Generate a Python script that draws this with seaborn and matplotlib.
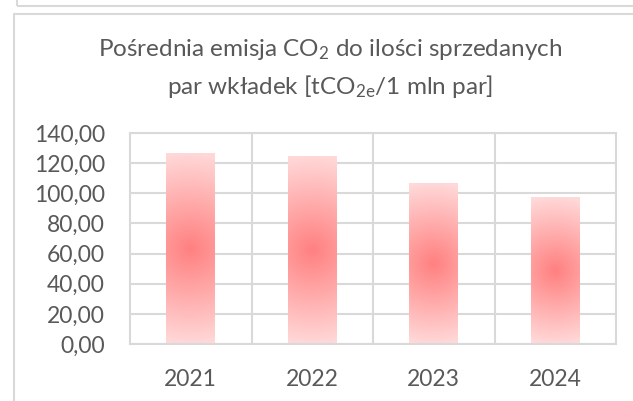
import numpy as np
import pandas as pd
import matplotlib.pyplot as plt
import seaborn as sns
from matplotlib.patches import Rectangle

# data
years = ["2021", "2022", "2023", "2024"]
emission = [126.7, 124.1, 106.2, 96.9]
y_ticks = [0, 20, 40, 60, 80, 100, 120, 140]

sns.set_style("white")
plt.rcParams["font.family"] = ["Lato", "DejaVu Sans"]
plt.rcParams["mathtext.default"] = "regular"

grid_col = "#d9d9d9"
text_col = "#595959"

fig = plt.figure(figsize=(6.33, 4.01), dpi=100)
ax = fig.add_axes([130/633, 57/401, 486/633, 211/401])

df = pd.DataFrame({"year": years, "value": emission})
sns.barplot(data=df, x="year", y="value", width=0.4, color="#ff8080", ax=ax, zorder=2)
ax.set_xlim(-0.5, 3.5)
ax.set_ylim(0, 140)
ax.set_yticks(y_ticks)
ax.set_yticklabels([f"{v:.2f}".replace(".", ",") for v in y_ticks])
ax.set_xticks([0.5, 1.5, 2.5], minor=True)
ax.set_xlabel("")
ax.set_ylabel("")
ax.set_axisbelow(True)
ax.grid(axis="y", color=grid_col, lw=1.5)
ax.grid(axis="x", which="minor", color=grid_col, lw=1.5)
ax.grid(axis="x", which="major", visible=False)
for s in ax.spines.values():
    s.set_color(grid_col)
    s.set_linewidth(1.5)
ax.tick_params(axis="both", which="both", length=0, labelsize=16.5, colors=text_col)
ax.tick_params(axis="y", pad=18)
ax.tick_params(axis="x", pad=18)

# radial gradient fill for each bar (center red, edges pale pink)
fig.canvas.draw()
c0 = np.array([255, 128, 128]) / 255
c1 = np.array([255, 216, 216]) / 255
for p in list(ax.patches):
    x0, y0 = p.get_x(), p.get_y()
    w, h = p.get_width(), p.get_height()
    (px0, py0), (px1, py1) = ax.transData.transform([(x0, y0), (x0 + w, y0 + h)])
    nw, nh = max(int(round(px1 - px0)), 2), max(int(round(py1 - py0)), 2)
    xx, yy = np.meshgrid(np.arange(nw) - nw / 2 + 0.5, np.arange(nh) - nh / 2 + 0.5)
    t = np.clip(np.hypot(xx, yy) / (nh / 2), 0, 1)
    img = c0 + (c1 - c0) * t[..., None]
    ax.imshow(img, extent=(x0, x0 + w, y0, y0 + h), aspect="auto",
              zorder=2.5, interpolation="bilinear")
    p.set_visible(False)
ax.set_xlim(-0.5, 3.5)
ax.set_ylim(0, 140)

# title
fig.text(330/633, 1 - 49/401, "Pośrednia emisja CO$_2$ do ilości sprzedanych",
         ha="center", va="center", fontsize=17.5, color=text_col)
fig.text(330/633, 1 - 87/401, "par wkładek [tCO$_{2e}$/1 mln par]",
         ha="center", va="center", fontsize=17.5, color=text_col)

# chart frames
fig.add_artist(Rectangle((14/633, -0.1), 1.2, 1 - 14/401 + 0.1, transform=fig.transFigure,
                         fill=False, ec=grid_col, lw=1.5))
fig.add_artist(Rectangle((17/633, 1 - 6/401), 1.2, 0.2, transform=fig.transFigure,
                         fill=False, ec=grid_col, lw=1.5))

fig.savefig("out.png", dpi=100)
